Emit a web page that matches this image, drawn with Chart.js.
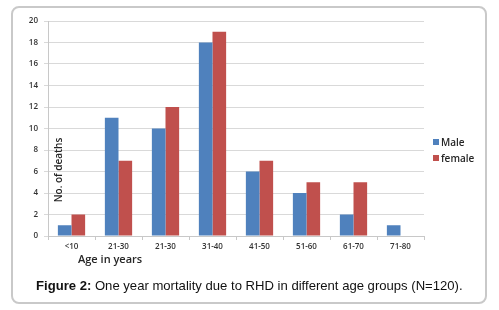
<!DOCTYPE html>
<html>
<head>
<meta charset="utf-8">
<script src="https://cdn.jsdelivr.net/npm/chart.js@4.4.1/dist/chart.umd.min.js"></script>
<style>
  html, body { margin: 0; padding: 0; background: #fff; }
  #wrap { position: relative; width: 499px; height: 310px; overflow: hidden; }
  #frame { position: absolute; left: 11px; top: 6px; width: 472px; height: 294px; border: 2px solid #c9c9c9; border-radius: 8px; box-sizing: content-box; }
  canvas { position: absolute; left: 0; top: 0; }
  .lbl { position: absolute; font-family: "Open Sans", "Liberation Sans", sans-serif; color: #262626; white-space: nowrap; }
  #ytitle { left: 58px; top: 170px; font-size: 10px; font-weight: 600; transform: translate(-50%, -50%) rotate(-90deg); }
  #xtitle { left: 78px; top: 251px; font-size: 11px; font-weight: 600; }
  #legend { position: absolute; left: 433px; top: 135px; font-family: "Open Sans", "Liberation Sans", sans-serif; font-size: 10px; font-weight: 600; color: #262626; }
  #legend div { height: 16px; line-height: 14px; }
  #legend span { display: inline-block; width: 6px; height: 6px; margin-right: 2px; vertical-align: 1px; }
  #caption { position: absolute; left: 36px; top: 278px; font-family: "Liberation Sans", Arial, sans-serif; font-size: 13.1px; color: #111; white-space: nowrap; }
</style>
</head>
<body>
<div id="wrap">
  <div id="frame"></div>
  <canvas id="c" width="499" height="310"></canvas>
  <div class="lbl" id="ytitle">No. of deaths</div>
  <div class="lbl" id="xtitle">Age in years</div>
  <div id="legend"></div>
  <div id="caption"><b>Figure 2:</b> One year mortality due to RHD in different age groups (N=120).</div>
</div>
<script>
// 데이터
const ageGroups = ['<10', '21-30', '21-30', '31-40', '41-50', '51-60', '61-70', '71-80'];
const male = [1, 11, 10, 18, 6, 4, 2, 1];
const female = [2, 7, 12, 19, 7, 5, 5, 0];
const seriesNames = ['Male', 'female'];
const seriesColors = ['#4f81bd', '#c0504d'];

// 범례 (HTML)
document.getElementById('legend').innerHTML = seriesNames
  .map((n, i) => '<div><span style="background:' + seriesColors[i] + '"></span>' + n + '</div>')
  .join('');

const tickFont = { family: '"Open Sans", "Liberation Sans", sans-serif', size: 8, weight: '600' };

new Chart(document.getElementById('c'), {
  type: 'bar',
  data: {
    labels: ageGroups,
    datasets: [
      { label: seriesNames[0], data: male, backgroundColor: seriesColors[0], borderWidth: 0 },
      { label: seriesNames[1], data: female, backgroundColor: seriesColors[1], borderWidth: 0 },
    ],
  },
  options: {
    responsive: false, animation: false,
    layout: { padding: { left: 12, top: 21, right: 75, bottom: 0 } },
    datasets: { bar: { categoryPercentage: 0.58, barPercentage: 1 } },
    plugins: { legend: { display: false }, tooltip: { enabled: false } },
    scales: {
      x: {
        afterFit: (s) => { s.height = 74; },
        grid: { drawOnChartArea: false, drawTicks: true, tickLength: 4, color: '#c8c8c8' },
        border: { color: '#c8c8c8' },
        ticks: { font: tickFont, color: '#333', padding: 2, maxRotation: 0 },
      },
      y: {
        min: 0, max: 20,
        afterFit: (s) => { s.width = 36; },
        grid: { color: '#d9d9d9', drawTicks: true, tickLength: 4 },
        border: { color: '#c8c8c8' },
        ticks: { stepSize: 2, font: tickFont, color: '#333', padding: 6 },
      },
    },
  },
});
</script>
</body>
</html>
